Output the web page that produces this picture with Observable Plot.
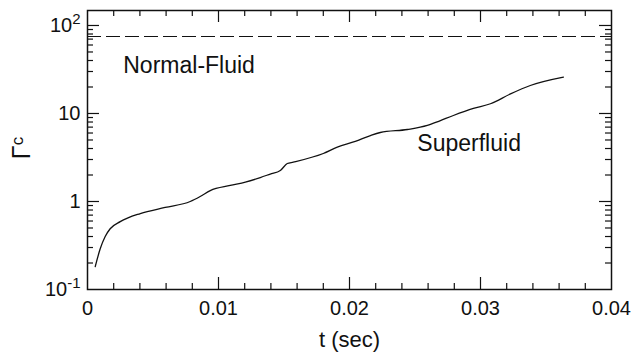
<!DOCTYPE html>
<html><head><meta charset="utf-8">
<script src="https://cdn.jsdelivr.net/npm/d3@7"></script>
<script src="https://cdn.jsdelivr.net/npm/@observablehq/plot@0.6"></script>
<style>body{margin:0;background:#fff} svg{display:block}</style>
</head><body><div id="chart"></div>
<script>
const tSec = [0.00059, 0.00097, 0.00135, 0.00173, 0.0025, 0.00403, 0.00593, 0.00784, 0.0086, 0.00937, 0.0109, 0.01205, 0.01319, 0.01395, 0.01472, 0.01525, 0.01571, 0.018, 0.01907, 0.02044, 0.0216, 0.02235, 0.02442, 0.02594, 0.02694, 0.02793, 0.02946, 0.03076, 0.03229, 0.0338, 0.03633];
const gammaC = [0.182, 0.29, 0.40, 0.49, 0.59, 0.73, 0.855, 1.0, 1.14, 1.33, 1.52, 1.66, 1.87, 2.05, 2.25, 2.70, 2.80, 3.51, 4.14, 4.81, 5.62, 6.08, 6.58, 7.31, 8.32, 9.49, 11.4, 12.9, 16.7, 20.8, 25.9];
const normalFluidLimit = 75;
const xTicks = [0, 0.01, 0.02, 0.03, 0.04];
const xTickLabels = ["0", "0.01", "0.02", "0.03", "0.04"];
const xMajorInner = [0.01, 0.02, 0.03];
const xMinorTicks = [0.002, 0.004, 0.006, 0.008, 0.012, 0.014, 0.016, 0.018, 0.022, 0.024, 0.026, 0.028, 0.032, 0.034, 0.036, 0.038];
const yTicks = [0.1, 1, 10, 100];
const yTickLabels = ["10^-1", "1", "10", "10^2"];
const yMajorInner = [1, 10, 100];
const yMinorTicks = [0.2, 0.3, 0.4, 0.5, 0.6, 0.7, 0.8, 0.9, 2, 3, 4, 5, 6, 7, 8, 9, 20, 30, 40, 50, 60, 70, 80, 90];
const annotations = [
  {t: 0.00273, g: 28.5, label: "Normal-Fluid"},
  {t: 0.02518, g: 3.70, label: "Superfluid"}
];
const xLabel = "t (sec)";

const data = tSec.map((t, i) => ({t, g: gammaC[i]}));
const W = 642, Hh = 356, mL = 87, mR = 31, mT = 10, mB = 67;
const PW = W - mL - mR, PH = Hh - mT - mB;
const font = "'Liberation Sans', Arial, Helvetica, sans-serif";

const chart = Plot.plot({
  width: W, height: Hh,
  marginLeft: mL, marginRight: mR, marginTop: mT, marginBottom: mB,
  style: {fontFamily: font, fontSize: "20px", color: "#111", background: "#fff"},
  x: {domain: [0, 0.04]},
  y: {type: "log", domain: [0.1, 148]},
  marks: [
    Plot.ruleY([normalFluidLimit], {stroke: "#111", strokeWidth: 1.2, strokeDasharray: "14,5"}),
    Plot.line(data, {x: "t", y: "g", stroke: "#111", strokeWidth: 1.3, curve: "monotone-x"}),
    Plot.tickX(xMajorInner, {x: d => d, insetTop: PH - 12, stroke: "#111", strokeWidth: 1.2}),
    Plot.tickX(xMajorInner, {x: d => d, insetBottom: PH - 12, stroke: "#111", strokeWidth: 1.2}),
    Plot.tickX(xMinorTicks, {x: d => d, insetTop: PH - 6, stroke: "#111", strokeWidth: 1.2}),
    Plot.tickX(xMinorTicks, {x: d => d, insetBottom: PH - 6, stroke: "#111", strokeWidth: 1.2}),
    Plot.tickY(yMajorInner, {y: d => d, insetRight: PW - 12, stroke: "#111", strokeWidth: 1.2}),
    Plot.tickY(yMajorInner, {y: d => d, insetLeft: PW - 12, stroke: "#111", strokeWidth: 1.2}),
    Plot.tickY(yMinorTicks, {y: d => d, insetRight: PW - 6, stroke: "#111", strokeWidth: 1.2}),
    Plot.tickY(yMinorTicks, {y: d => d, insetLeft: PW - 6, stroke: "#111", strokeWidth: 1.2}),
    Plot.frame({stroke: "#111", strokeWidth: 1.5}),
    Plot.axisX({ticks: xTicks, tickSize: 0, tickPadding: 11, fontSize: 20, label: null,
      tickFormat: d => xTickLabels[xTicks.indexOf(d)]}),
    Plot.axisY({ticks: yTicks, tickSize: 0, tickPadding: 7, fontSize: 20, label: null,
      tickFormat: d => yTickLabels[yTicks.indexOf(d)]}),
    Plot.text(annotations, {x: "t", y: "g", text: "label", textAnchor: "start", lineAnchor: "bottom", fontSize: 23, fill: "#111"}),
    Plot.text([xLabel], {frameAnchor: "bottom", text: d => d, dy: 57, lineAnchor: "bottom", fontSize: 22, fill: "#111"})
  ]
});

const svg = d3.select(chart);
svg.selectAll('g[aria-label="y-axis tick label"] text').each(function () {
  const s = this.textContent;
  const i = s.indexOf("^");
  if (i >= 0) {
    const sel = d3.select(this);
    sel.text(null);
    sel.append("tspan").text(s.slice(0, i));
    sel.append("tspan").attr("dy", "-0.5em").attr("font-size", "15px").text(s.slice(i + 1));
  }
});
const yl = svg.append("text")
  .attr("transform", "translate(30,148) rotate(-90)")
  .attr("text-anchor", "middle")
  .attr("font-family", font)
  .attr("font-size", 25)
  .attr("fill", "#111");
yl.append("tspan").text("Γ");
yl.append("tspan").attr("dy", "-0.4em").attr("font-size", 17).text("c");

document.getElementById("chart").appendChild(chart);
</script>
</body></html>
